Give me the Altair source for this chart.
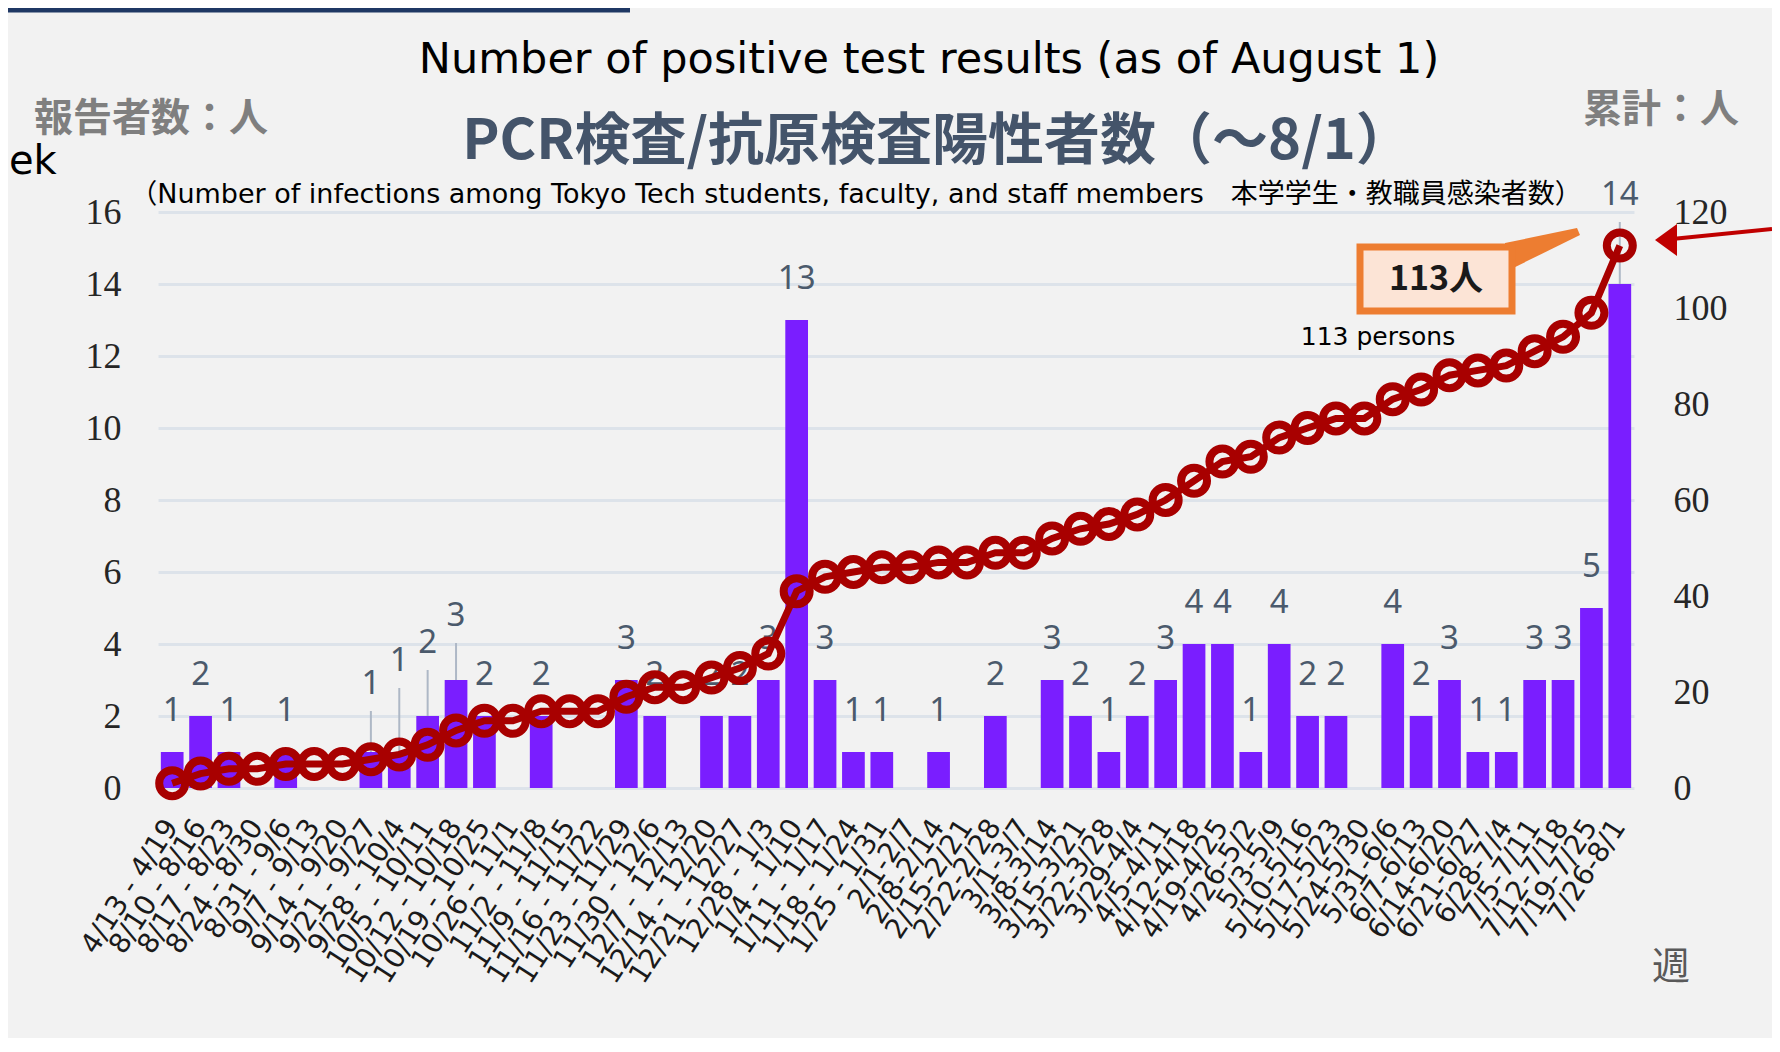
import altair as alt
import pandas as pd

# ---------------- data ----------------
weeks = ["4/13 - 4/19", "8/10 - 8/16", "8/17 - 8/23", "8/24 - 8/30", "8/31 - 9/6",
         "9/7 - 9/13", "9/14 - 9/20", "9/21 - 9/27", "9/28 - 10/4", "10/5 - 10/11",
         "10/12 - 10/18", "10/19 - 10/25", "10/26 - 11/1", "11/2 - 11/8", "11/9 - 11/15",
         "11/16 - 11/22", "11/23 - 11/29", "11/30 - 12/6", "12/7 - 12/13", "12/14 - 12/20",
         "12/21 - 12/27", "12/28 - 1/3", "1/4 - 1/10", "1/11 - 1/17", "1/18 - 1/24",
         "1/25 - 1/31", "2/1-2/7", "2/8-2/14", "2/15-2/21", "2/22-2/28", "3/1-3/7",
         "3/8-3/14", "3/15-3/21", "3/22-3/28", "3/29-4/4", "4/5-4/11", "4/12-4/18",
         "4/19-4/25", "4/26-5/2", "5/3-5/9", "5/10-5/16", "5/17-5/23", "5/24-5/30",
         "5/31-6/6", "6/7-6/13", "6/14-6/20", "6/21-6/27", "6/28-7/4", "7/5-7/11",
         "7/12-7/18", "7/19-7/25", "7/26-8/1"]
weekly = [1, 2, 1, 0, 1, 0, 0, 1, 1, 2, 3, 2, 0, 2, 0, 0, 3, 2, 0, 2, 2, 3, 13, 3, 1, 1,
          0, 1, 0, 2, 0, 3, 2, 1, 2, 3, 4, 4, 1, 4, 2, 2, 0, 4, 2, 3, 1, 1, 3, 3, 5, 14]
cumulative = [1, 3, 4, 4, 5, 5, 5, 6, 7, 9, 12, 14, 14, 16, 16, 16, 19, 21, 21, 23, 25, 28,
              41, 44, 45, 46, 46, 47, 47, 49, 49, 52, 54, 55, 57, 60, 64, 68, 69, 73, 75,
              77, 77, 81, 83, 86, 87, 88, 91, 94, 99, 113]

left_ticks = [0, 2, 4, 6, 8, 10, 12, 14, 16]
right_ticks = [0, 20, 40, 60, 80, 100, 120]

# ---------------- layout ----------------
PLOT_W, PLOT_H = 1476, 576
ORIGIN_X, ORIGIN_Y = 158, 212            # page position of the plot area
PX_PER_UNIT = PLOT_H / 16
LABEL_LIFT_PX = {7: 27, 8: 50, 9: 32, 10: 23, 51: 48}   # labels moved up with leader lines

def px(x):
    return x - ORIGIN_X

def py(y):
    return y - ORIGIN_Y

df = pd.DataFrame({"week": weeks, "weekly": weekly, "cumulative": cumulative})
df["idx"] = range(len(df))
df["lift"] = df["idx"].map(LABEL_LIFT_PX).fillna(0)

lab = df[df["weekly"] > 0].copy()
lab["label_y"] = lab["weekly"] + lab["lift"] / PX_PER_UNIT

lead = df[df["lift"] > 0].copy()
lead["y0"] = lead["weekly"]
lead["y1"] = lead["weekly"] + (lead["lift"] + 14) / PX_PER_UNIT

BAR = "#7A1EFF"
RED = "#A80000"
LABEL_GRAY = "#4b5a6c"
SANS = "'DejaVu Sans', 'Noto Sans CJK JP', sans-serif"
CJK = "'Noto Sans CJK JP', sans-serif"

X = alt.X("week:N", sort=weeks,
          scale=alt.Scale(paddingInner=0.2, paddingOuter=0.1),
          axis=alt.Axis(title=None, labelAngle=-57, labelFont="DejaVu Sans", labelFontSize=28,
                        labelColor="#1a1a1a", labelPadding=34, ticks=False, domain=False,
                        grid=False, labelOverlap=False, labelAlign="right",
                        labelBaseline="middle", labelLimit=400))

left_scale = alt.Scale(domain=[0, 16], nice=False)
right_scale = alt.Scale(domain=[0, 120], nice=False)

left_axis = alt.Axis(title=None, values=left_ticks, labelFont="Liberation Serif",
                     labelFontSize=36, labelColor="#262626", labelPadding=37,
                     ticks=False, domain=False, gridColor="#dde3ea", gridWidth=3)
right_axis = alt.Axis(title=None, orient="right", values=right_ticks,
                      labelFont="Liberation Serif", labelFontSize=36,
                      labelColor="#262626", labelPadding=39, ticks=False,
                      domain=False, grid=False)

bars = alt.Chart(df).mark_bar(color=BAR).encode(
    x=X,
    y=alt.Y("weekly:Q", scale=left_scale, axis=left_axis),
)

leaders = alt.Chart(lead).mark_rule(color="#aeb8c6", strokeWidth=2).encode(
    x=X,
    y=alt.Y("y0:Q", scale=left_scale, axis=left_axis),
    y2="y1:Q",
)

labels = alt.Chart(lab).mark_text(dy=-31, baseline="alphabetic", font="Noto Sans",
                                  fontSize=33, color=LABEL_GRAY).encode(
    x=X,
    y=alt.Y("label_y:Q", scale=left_scale, axis=left_axis),
    text="weekly:Q",
)

left_group = alt.layer(bars, leaders, labels)

line = alt.Chart(df).mark_line(color=RED, strokeWidth=7).encode(
    x=X,
    y=alt.Y("cumulative:Q", scale=right_scale, axis=right_axis),
)
points = alt.Chart(df).mark_point(shape="circle", size=676, strokeWidth=8, color=RED,
                                  filled=False, opacity=1).encode(
    x=X,
    y=alt.Y("cumulative:Q", scale=right_scale, axis=right_axis),
)
right_group = alt.layer(line, points)


def note(text, x, y, size, color="#000000", weight="normal", font=SANS,
         align="center", baseline="middle"):
    return alt.Chart(pd.DataFrame({"t": [text]})).mark_text(
        align=align, baseline=baseline, fontSize=size, font=font,
        fontWeight=weight, color=color).encode(
        x=alt.value(px(x)), y=alt.value(py(y)), text="t:N")


one = pd.DataFrame({"k": [0]})

top_navy = alt.Chart(one).mark_rule(color="#1f3864", strokeWidth=5).encode(
    x=alt.value(px(8)), x2=alt.value(px(630)), y=alt.value(py(10)), y2=alt.value(py(10)))

pointer = alt.Chart(one).mark_point(
    shape="M -1 -0.16 L 0.92 -0.56 L 1 -0.373 L -1 0.613 Z",
    size=5625, filled=True, fill="#ED7D31", strokeWidth=0, opacity=1).encode(
    x=alt.value(px(1542.5)), y=alt.value(py(249)))

callout_box = alt.Chart(one).mark_rect(fill="#FCE4D6", stroke="#ED7D31", strokeWidth=7).encode(
    x=alt.value(px(1360)), x2=alt.value(px(1512)), y=alt.value(py(247)), y2=alt.value(py(311)))

arrow_line = alt.Chart(one).mark_rule(color="#C00000", strokeWidth=4).encode(
    x=alt.value(px(1672)), x2=alt.value(px(1772)), y=alt.value(py(239)), y2=alt.value(py(229)))

arrow_head = alt.Chart(one).mark_point(
    shape="M -0.6875 0 L 0.6875 -1 L 0.6875 1 Z",
    size=1024, filled=True, fill="#C00000", strokeWidth=0, opacity=1).encode(
    x=alt.value(px(1666)), y=alt.value(py(240)))

annotations = [
    top_navy,
    note("Number of positive test results (as of August 1)", 929, 60, 43),
    note("報告者数：人", 34, 119, 39, color="#7f7f7f", weight="bold", font=CJK, align="left"),
    note("ek", 9, 162, 40, align="left"),
    note("PCR検査/抗原検査陽性者数（～8/1）", 937, 142, 56, color="#44546a", weight="bold", font=CJK),
    note("（Number of infections among Tokyo Tech students, faculty, and staff members　本学学生・教職員感染者数）",
         856, 195, 27),
    note("累計：人", 1583, 110, 39, color="#7f7f7f", weight="bold", font=CJK, align="left"),
    note("週", 1671, 968, 38, color="#595959", font=CJK),
    note("113 persons", 1378, 337, 25),
    pointer,
    callout_box,
    note("113人", 1436, 280, 34, color="#1a1a1a", weight="bold", font=CJK),
    arrow_line,
    arrow_head,
]

chart = alt.layer(left_group, right_group, *annotations).resolve_scale(
    y="independent"
).properties(
    width=PLOT_W, height=PLOT_H,
    background="#f2f2f2",
    autosize=alt.AutoSizeParams(type="none"),
    padding={"left": 150, "top": 204, "right": 138, "bottom": 250},
).configure_view(strokeWidth=0)

chart.save("out.html", embed_options={"renderer": "svg", "actions": False})
